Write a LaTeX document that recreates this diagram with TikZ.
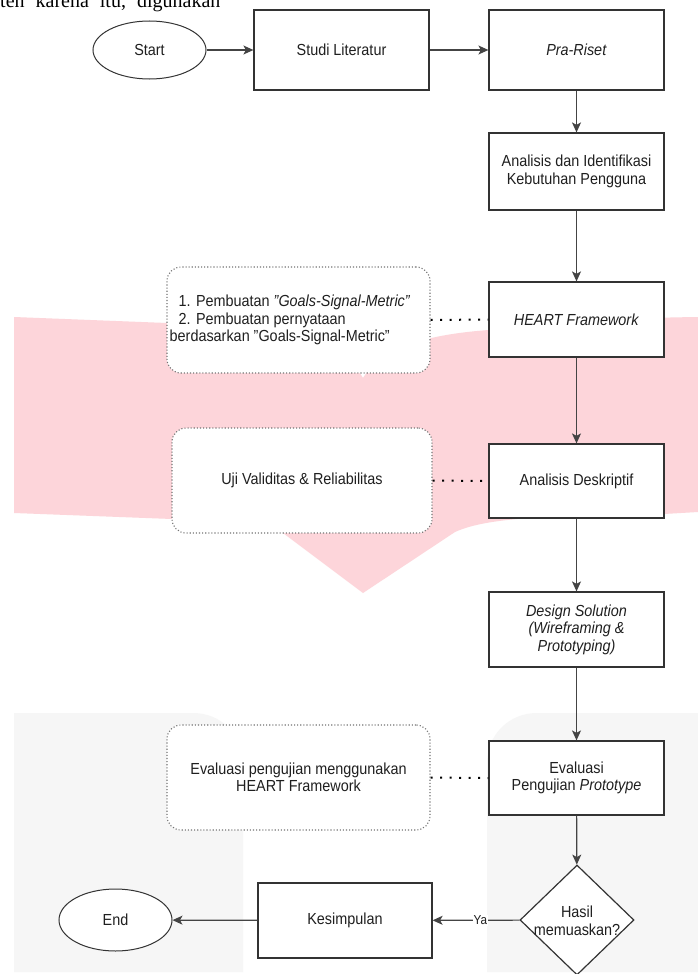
\documentclass[tikz,border=0pt]{standalone}
\usepackage{fontspec}
\setmainfont{Liberation Sans}[FakeStretch=0.9]
\newfontfamily\timesf{Liberation Serif}
\usetikzlibrary{shapes.geometric,arrows.meta}
\definecolor{pinkwm}{HTML}{FDD5DA}
\definecolor{greywm}{HTML}{F6F6F6}
\definecolor{edgec}{HTML}{333333}
\definecolor{linec}{HTML}{444444}
\begin{document}
\begin{tikzpicture}[x=1pt,y=-1pt,
  every node/.style={font=\fontsize{16}{17.5}\selectfont, text=black!88},
  proc/.style={draw=edgec, line width=1.2pt, fill=white, minimum width=175pt,
    minimum height=76pt, inner sep=0pt, align=center},
  term/.style={ellipse, draw=edgec, line width=1pt, fill=white,
    minimum width=113pt, minimum height=58pt, inner sep=0pt},
  notebox/.style={draw=black!55, dotted, line width=1.1pt, rounded corners=14pt,
    fill=white, inner sep=0pt, align=center},
  decision/.style={diamond, draw=edgec, line width=1.2pt, fill=white,
    minimum width=114pt, minimum height=110pt, inner sep=0pt},
  flow/.style={draw=linec, line width=1.2pt, -{Stealth[length=10pt,width=9pt,inset=2.5pt]}},
  dotlink/.style={draw=black, line width=2pt, dash pattern=on 2pt off 7.5pt}
]
\useasboundingbox (0,0) rectangle (698,974);
\clip (0,0) rectangle (698,974);
\fill[white] (0,0) rectangle (698,974);

% watermark shapes
\fill[pinkwm] (14,317) -- (167,323) .. controls (270,330) and (345,345) .. (363,378)
  .. controls (380,350) and (420,335) .. (489,330)
  .. controls (560,322) and (620,318) .. (698,317)
  -- (698,512) -- (664,514) .. controls (560,516) and (490,516) .. (455,532)
  -- (363,593) -- (283,533) .. controls (260,522) and (220,519) .. (172,519)
  -- (14,513) -- cycle;
\fill[greywm] (14,972) -- (14,713) -- (193,713) .. controls (221,713) and (243,735) .. (243,763) -- (243,972) -- cycle;
\fill[greywm] (487,972) -- (487,763) .. controls (487,735) and (509,713) .. (537,713) -- (698,713) -- (698,972) -- cycle;

% stray page text
\node[anchor=base west, inner sep=0pt, font=\timesf\fontsize{20}{22}\selectfont, text=black]
  (pagetext) at (0,7.5) {ten\hspace{11pt}karena\hspace{11pt}itu,\hspace{11pt}digunakan};

% nodes
\node[term] (start) at (149.5,50) {Start};
\node[proc, minimum height=80pt] (studi) at (341.5,50) {Studi Literatur};
\node[proc, minimum height=80pt] (pra) at (576.5,50) {\textit{Pra-Riset}};
\node[proc, minimum height=77pt] (anal) at (576.5,171.5) {Analisis dan Identifikasi\\Kebutuhan Pengguna};
\node[proc, minimum height=75pt] (heart) at (576.5,319.5) {\textit{HEART Framework}};
\node[proc, minimum height=74pt] (ad) at (576.5,481) {Analisis Deskriptif};
\node[proc, minimum height=75pt] (design) at (576.5,629.5) {\textit{Design Solution}\\\textit{(Wireframing \&}\\\textit{Prototyping)}};
\node[proc, minimum height=74pt] (eval) at (576.5,778) {Evaluasi\\Pengujian \textit{Prototype}};
\node[decision] (dec) at (577,920) {};
\node (dectext) at (577,921) [align=center, inner sep=0pt] {Hasil\\memuaskan?};
\node[proc, minimum width=174pt, minimum height=75pt] (kes) at (345,920.5) {Kesimpulan};
\node[term, minimum height=62pt] (end) at (115.5,920) {End};

\node[notebox, minimum width=263pt, minimum height=106pt] (n1) at (298.5,320) {};
\node[align=left, inner sep=0pt] (n1text) at (290,320)
  {\hspace*{9pt}1. Pembuatan \textit{"Goals-Signal-Metric"}\\
   \hspace*{9pt}2. Pembuatan pernyataan\\
   berdasarkan "Goals-Signal-Metric"};
\node[notebox, minimum width=260pt, minimum height=105pt] (n2) at (302,480.5) {Uji Validitas \& Reliabilitas};
\node[notebox, minimum width=263pt, minimum height=105pt] (n3) at (298.5,777.5) {Evaluasi pengujian menggunakan\\HEART Framework};

% connectors
\draw[flow] (start) -- (studi);
\draw[flow] (studi) -- (pra);
\draw[flow] (pra) -- (anal);
\draw[flow] (anal) -- (heart);
\draw[flow] (heart) -- (ad);
\draw[flow] (ad) -- (design);
\draw[flow] (design) -- (eval);
\draw[flow] (eval) -- (dec);
\draw[flow] (dec) -- node[fill=white, inner sep=1pt, font=\fontsize{13}{14}\selectfont, pos=0.45] (ya) {Ya} (kes);
\draw[flow] (kes) -- (end);
\draw[dotlink] (n1.east) -- (heart.west);
\draw[dotlink] (n2.east) -- (ad.west);
\draw[dotlink] (n3.east) -- (eval.west);
\end{tikzpicture}
\end{document}
